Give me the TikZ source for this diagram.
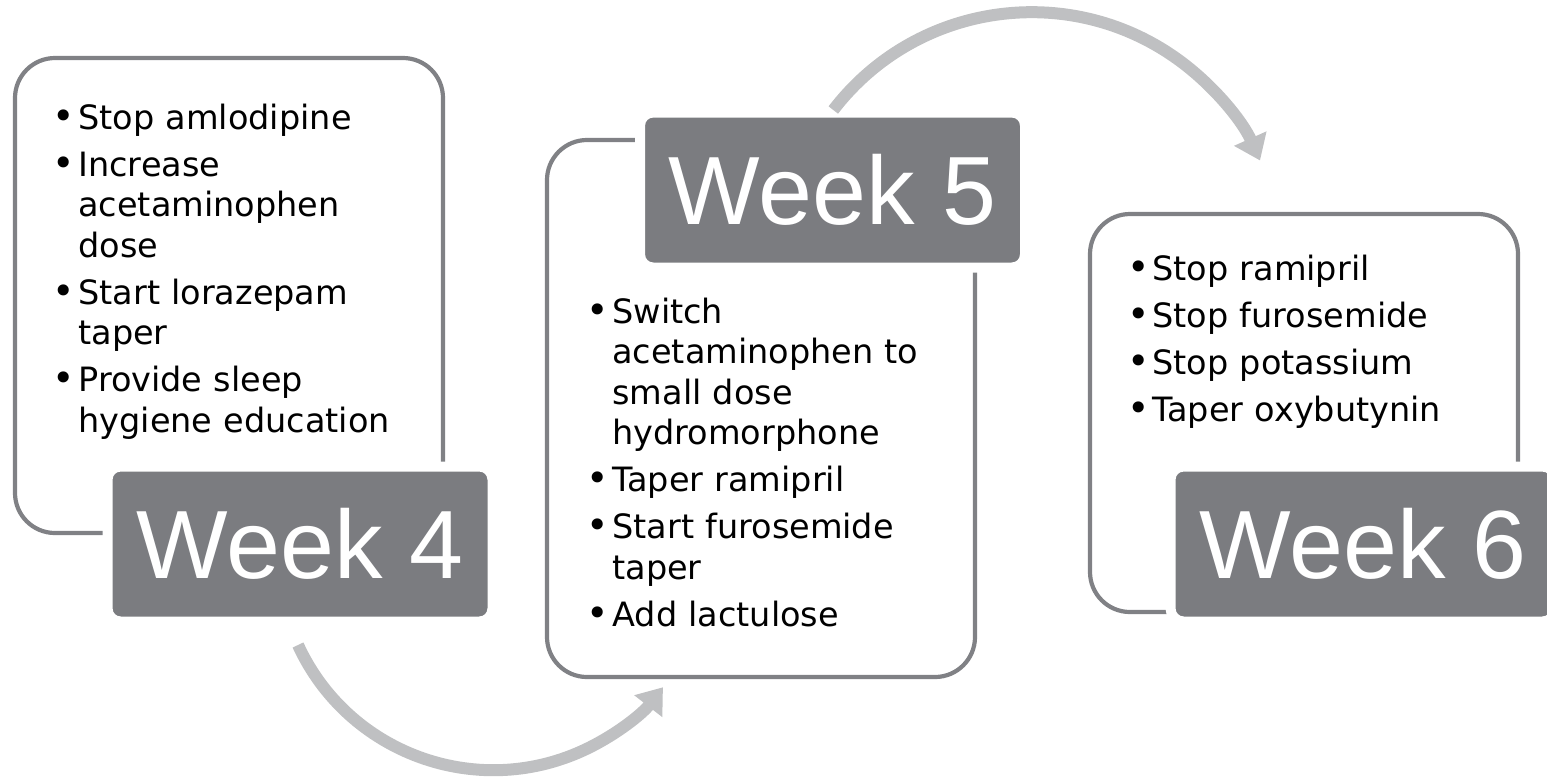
\documentclass[tikz,border=0pt]{standalone}
\usepackage{fontspec}
\setmainfont{DejaVu Sans}
\newfontfamily\weekfont{Liberation Sans}
\usetikzlibrary{arrows.meta}
\definecolor{framegray}{RGB}{128,129,133}
\definecolor{weekgray}{RGB}{123,124,128}
\definecolor{turngray}{RGB}{191,192,194}
\newcommand{\itm}{\leavevmode\llap{{\fontsize{19}{19}\selectfont\textbullet}\hspace{1.5pt}}}

\begin{document}
\begin{tikzpicture}[x=0.5pt,y=0.5pt,
  weekframe/.style={draw=framegray, line width=2.1pt, rounded corners=20pt, minimum width=214pt},
  week/.style={fill=weekgray, draw=white, line width=5pt, rounded corners=6.5pt, minimum width=192.5pt, minimum height=77.5pt, text=white, font=\weekfont\fontsize{48.5}{58}\selectfont},
  itemlist/.style={anchor=base west, inner sep=0pt, text width=180pt, align=left, font=\fontsize{16.75}{20.25}\selectfont},
  turnarrow/.style={draw=turngray, line width=6pt, -{Triangle[length=12pt,width=17pt]}}]
  \useasboundingbox (0,0) rectangle (1547,-778);
  % outlines
  \node[weekframe, minimum height=237.5pt] (frame4) at (229,-295.5) {};
  \node[weekframe, minimum height=268.5pt] (frame5) at (761,-408.5) {};
  \node[weekframe, minimum height=199pt] (frame6) at (1304,-413) {};
  % what to change
  \node[itemlist] (items4) at (78,-129) {\itm Stop amlodipine\\[3.25pt]
    \itm Increase\\ acetaminophen\\ dose\\[3.25pt]
    \itm Start lorazepam\\ taper\\[3.25pt]
    \itm Provide sleep\\ hygiene education};
  \node[itemlist] (items5) at (612,-323) {\itm Switch\\ acetaminophen to\\ small dose\\ hydromorphone\\[3.25pt]
    \itm Taper ramipril\\[3.25pt]
    \itm Start furosemide\\ taper\\[3.25pt]
    \itm Add lactulose};
  \node[itemlist] (items6) at (1152,-280) {\itm Stop ramipril\\[3.25pt]
    \itm Stop furosemide\\[3.25pt]
    \itm Stop potassium\\[3.25pt]
    \itm Taper oxybutynin};
  % week labels
  \node[week] (week4) at (300,-544) {Week 4};
  \node[week] (week5) at (832.5,-190) {Week 5};
  \node[week] (week6) at (1363,-544) {Week 6};
  % arrows between weeks
  \coordinate (turn45) at (298,-645);
  \coordinate (turn56) at (833.3,-110);
  \draw[turnarrow] (turn45) arc [start angle=204.7, end angle=322.1, radius=107.5pt];
  \draw[turnarrow] (turn56) arc [start angle=142.5, end angle=24, radius=125pt];
\end{tikzpicture}
\end{document}
